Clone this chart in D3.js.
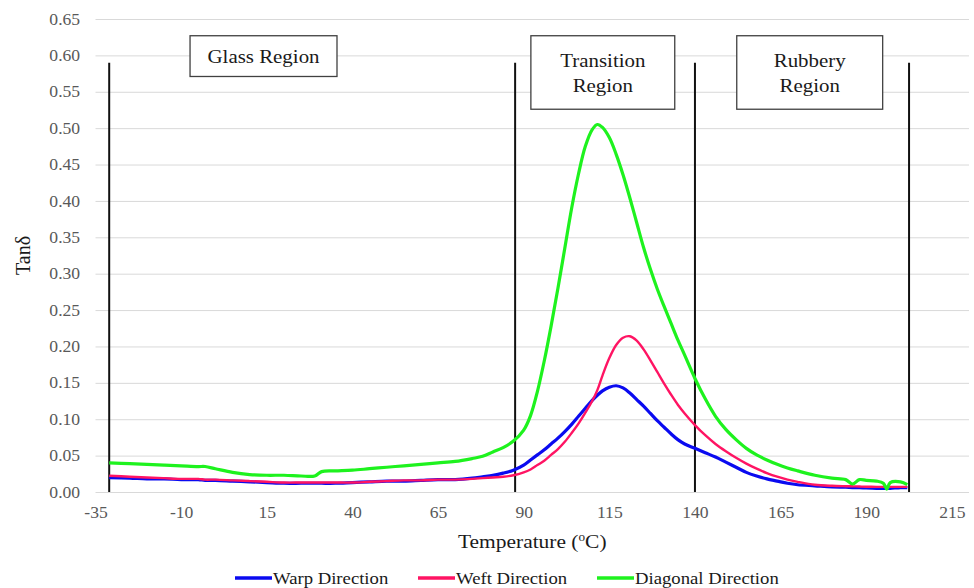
<!DOCTYPE html>
<html>
<head>
<meta charset="utf-8">
<script src="https://cdn.jsdelivr.net/npm/d3@7"></script>
<style>
  body { margin: 0; background: #fff; }
  svg text { font-family: "Liberation Serif", "Times New Roman", serif; }
</style>
</head>
<body>
<svg width="974" height="588"></svg>
<script>
const FONT = "'Liberation Serif', 'Times New Roman', serif";
const STRETCH = "scale(1.1,1)"; // the original picture is slightly wider than tall

// temperature (°C) sample points, shared by all three curves
const temps = [-31, -25, -20, -15, -10, -5, -3, 0, 5, 10, 15, 20, 25, 29, 31, 35, 40, 45, 50, 55, 60, 65, 70, 75, 78, 81, 84, 87,
  90, 92, 94, 96, 98, 100, 102, 104, 106, 108, 110, 111.5, 113, 115, 117, 119, 121, 123, 125, 127, 129, 131, 133, 135, 137,
  140, 143, 146, 149, 152, 155, 158, 161, 164, 167, 170, 175, 180, 184, 186, 188, 190, 193, 195, 196, 197, 200, 202];

const warp = [0.0197, 0.019, 0.018, 0.018, 0.017, 0.017, 0.016, 0.016, 0.015, 0.014, 0.013, 0.012, 0.012, 0.012, 0.012, 0.012,
  0.013, 0.014, 0.015, 0.015, 0.016, 0.017, 0.017, 0.019, 0.021, 0.023, 0.026, 0.030,
  0.037, 0.044, 0.051, 0.058, 0.066, 0.074, 0.083, 0.093, 0.104, 0.115, 0.126, 0.133, 0.139, 0.144, 0.146, 0.143, 0.136,
  0.127, 0.118, 0.108, 0.098, 0.089, 0.080, 0.072, 0.066,
  0.060, 0.054, 0.048, 0.041, 0.034, 0.027, 0.022, 0.018, 0.015, 0.012, 0.010, 0.0085, 0.007, 0.0065, 0.006, 0.006, 0.0055,
  0.005, 0.005, 0.005, 0.005, 0.006, 0.006];

const weft = [0.0224, 0.021, 0.020, 0.019, 0.018, 0.018, 0.017, 0.017, 0.016, 0.015, 0.014, 0.013, 0.013, 0.013, 0.013, 0.013,
  0.013, 0.014, 0.015, 0.016, 0.016, 0.017, 0.017, 0.018, 0.019, 0.020, 0.021, 0.023,
  0.027, 0.031, 0.037, 0.043, 0.051, 0.059, 0.069, 0.081, 0.094, 0.109, 0.125, 0.140, 0.160, 0.184, 0.202, 0.212, 0.214,
  0.208, 0.196, 0.181, 0.165, 0.149, 0.134, 0.120, 0.108,
  0.092, 0.078, 0.066, 0.056, 0.047, 0.039, 0.032, 0.026, 0.021, 0.017, 0.014, 0.010, 0.0085, 0.008, 0.0078, 0.0075, 0.0073,
  0.007, 0.007, 0.007, 0.007, 0.007, 0.007];

const diagonal = [0.040, 0.039, 0.038, 0.037, 0.036, 0.035, 0.035, 0.032, 0.027, 0.024, 0.023, 0.023, 0.022, 0.022, 0.028, 0.029,
  0.030, 0.032, 0.034, 0.036, 0.038, 0.040, 0.042, 0.046, 0.049, 0.055, 0.061, 0.070,
  0.085, 0.105, 0.138, 0.180, 0.228, 0.280, 0.335, 0.390, 0.437, 0.475, 0.498, 0.505, 0.501, 0.487, 0.464, 0.436, 0.404,
  0.370, 0.336, 0.306, 0.279, 0.255, 0.232, 0.209, 0.188,
  0.156, 0.128, 0.104, 0.086, 0.072, 0.060, 0.051, 0.044, 0.038, 0.033, 0.029, 0.023, 0.019, 0.017, 0.011, 0.017, 0.016,
  0.015, 0.012, 0.004, 0.013, 0.014, 0.010];

const seriesNames = ["Warp Direction", "Weft Direction", "Diagonal Direction"];
const seriesColors = ["#0a0af0", "#ff1463", "#1ef21e"];

const xTicks = [-35, -10, 15, 40, 65, 90, 115, 140, 165, 190, 215];
const yTicks = d3.range(0, 0.651, 0.05);

// boundaries of the three regions (°C) and the label boxes (data units)
const regionLines = [-31, 87.5, 140, 202.5];
const regionLineTop = 0.59;
const regionBoxes = [
  { text: ["Glass Region"], x0: -7.4, x1: 35.5, top: 0.627, bottom: 0.571 },
  { text: ["Transition", "Region"], x0: 92.1, x1: 134.1, top: 0.627, bottom: 0.526 },
  { text: ["Rubbery", "Region"], x0: 152.2, x1: 194.8, top: 0.627, bottom: 0.526 }
];


const svg = d3.select("svg");
const margin = {top: 19, right: 5, bottom: 96, left: 95.5};
const width = +svg.attr("width") - margin.left - margin.right;
const height = +svg.attr("height") - margin.top - margin.bottom;
const g = svg.append("g").attr("transform", "translate(" + margin.left + "," + margin.top + ")");

const x = d3.scaleLinear().domain([-35, 220]).range([0, width]);
const y = d3.scaleLinear().domain([0, 0.65]).range([height, 0]);

// text anchored at (px, py), stretched a little horizontally
function addText(parent, px, py, size) {
  return parent.append("g")
    .attr("transform", "translate(" + px + "," + py + ") " + STRETCH)
    .append("text")
    .attr("fill", "#1a1a1a")
    .attr("font-family", FONT)
    .attr("font-size", size);
}

// y axis with gridlines
const yAxis = g.append("g")
  .attr("class", "axis axis--y")
  .call(d3.axisLeft(y).tickValues(yTicks).tickSize(-width).tickPadding(14).tickFormat(d3.format(".2f")));
yAxis.attr("font-family", FONT).attr("font-size", 16);
yAxis.select(".domain").remove();
yAxis.selectAll("line").attr("stroke", "#d9d9d9").attr("stroke-width", 1);
yAxis.selectAll("text").attr("fill", "#595959").attr("transform", STRETCH);

// x axis, labels only (plain hyphen for negatives)
const xAxis = g.append("g")
  .attr("class", "axis axis--x")
  .attr("transform", "translate(0," + height + ")")
  .call(d3.axisBottom(x).tickValues(xTicks).tickSize(0).tickPadding(15).tickFormat(d => String(d)));
xAxis.attr("font-family", FONT).attr("font-size", 16);
xAxis.select(".domain").remove();
xAxis.selectAll("text").attr("fill", "#595959").attr("transform", STRETCH);

// region separators
g.selectAll(".region-line")
  .data(regionLines)
  .enter().append("line")
  .attr("class", "region-line")
  .attr("x1", d => x(d)).attr("x2", d => x(d))
  .attr("y1", y(0)).attr("y2", y(regionLineTop))
  .attr("stroke", "#111")
  .attr("stroke-width", 2);

// curves
const series = [warp, weft, diagonal].map((vals, i) => ({
  name: seriesNames[i],
  color: seriesColors[i],
  values: temps.map((t, j) => ({t: t, v: vals[j]}))
}));

const line = d3.line()
  .x(d => x(d.t))
  .y(d => y(d.v))
  .curve(d3.curveCatmullRom.alpha(0.5));

g.selectAll(".serie")
  .data(series)
  .enter().append("path")
  .attr("class", "serie")
  .attr("fill", "none")
  .attr("stroke", d => d.color)
  .attr("stroke-width", (d, i) => i === 1 ? 2.4 : 3.2)
  .attr("stroke-linejoin", "round")
  .attr("d", d => line(d.values));

// region label boxes
regionBoxes.forEach(d => {
  const bx = g.append("g").attr("class", "region-box");
  bx.append("rect")
    .attr("x", x(d.x0))
    .attr("y", y(d.top))
    .attr("width", x(d.x1) - x(d.x0))
    .attr("height", y(d.bottom) - y(d.top))
    .attr("fill", "#fff")
    .attr("stroke", "#404040")
    .attr("stroke-width", 1.3);

  const cx = (x(d.x0) + x(d.x1)) / 2;
  const cy = (y(d.top) + y(d.bottom)) / 2;
  const n = d.text.length;
  d.text.forEach((t, i) => {
    addText(bx, cx, cy + (i - (n - 1) / 2) * 25, 19)
      .attr("dy", "0.35em")
      .attr("text-anchor", "middle")
      .text(t);
  });
});

// axis titles
const xTitle = addText(svg, margin.left + width / 2, 548, 19.5)
  .attr("text-anchor", "middle");
xTitle.append("tspan").text("Temperature (");
xTitle.append("tspan").attr("baseline-shift", "super").attr("font-size", 12).text("o");
xTitle.append("tspan").text("C)");

svg.append("text")
  .attr("transform", "translate(30," + (margin.top + height / 2) + ") rotate(-90)")
  .attr("text-anchor", "middle")
  .attr("fill", "#1a1a1a")
  .attr("font-family", FONT)
  .attr("font-size", 20)
  .text("Tanδ");

// legend
const legendX = [235, 418, 597];
series.forEach((d, i) => {
  const lg = svg.append("g")
    .attr("class", "legend")
    .attr("transform", "translate(" + legendX[i] + ",578)");
  lg.append("line")
    .attr("x1", 0).attr("x2", 37)
    .attr("stroke", d.color)
    .attr("stroke-width", 3.5);
  addText(lg, 38, 0, 17)
    .attr("dy", "0.35em")
    .text(d.name);
});
</script>
</body>
</html>
